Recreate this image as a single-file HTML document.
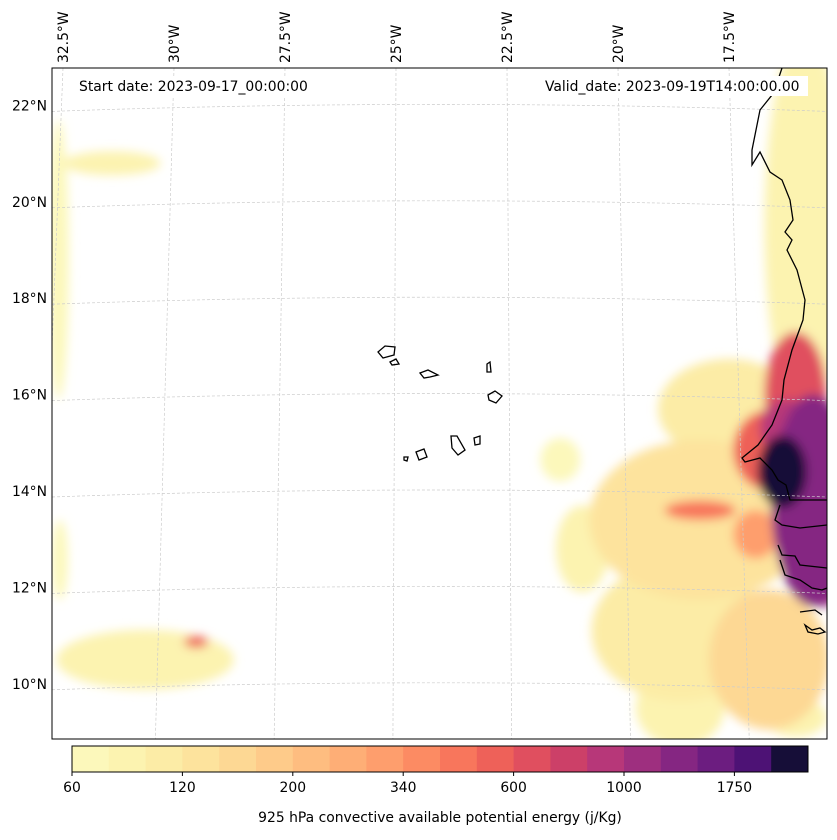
<!DOCTYPE html>
<html><head><meta charset="utf-8"><style>
body{margin:0;background:#fff;font-family:"DejaVu Sans",sans-serif}
svg text{font-family:"DejaVu Sans",sans-serif;font-size:13.9px;fill:#000}
</style></head><body>
<svg id="c" width="837" height="836" xmlns="http://www.w3.org/2000/svg">
<defs>
<clipPath id="mapclip"><rect x="52" y="68" width="775" height="671"/></clipPath>
<filter id="blur" x="-50%" y="-50%" width="200%" height="200%"><feGaussianBlur stdDeviation="5"/></filter>
</defs>
<rect x="0" y="0" width="837" height="836" fill="#fff"/>
<g id="field" clip-path="url(#mapclip)" filter="url(#blur)"></g>
<g id="grid" clip-path="url(#mapclip)"></g>
<g clip-path="url(#mapclip)" fill="none" stroke="#000" stroke-width="1.3">
<path d="M782,68 L778,80 L772,95 L760,110 L752,150 L752,165 L760,152 L770,172 L782,180 L790,200 L793,220 L785,232 L792,240 L787,250 L797,270 L805,300 L803,320 L792,350 L784,380 L782,400 L772,425 L758,445 L742,458 L745,462 L760,458 L772,470 L778,480 L786,485 L790,500 L827,500 M780,505 L775,520 L782,525 L800,528 L827,525 M778,545 L782,555 L795,556 L800,565 L827,568 M780,560 L785,575 L800,580 L812,588 L822,590 L827,588 M800,612 L815,610 L822,615 M805,625 L812,630 L820,628 L825,632 L818,634 L808,632 Z"/>
<path d="M378,352 L385,346 L395,347 L394,355 L383,358 Z"/>
<path d="M390,362 L396,359 L399,364 L392,365 Z"/>
<path d="M420,373 L428,370 L438,375 L430,377 L424,378 Z"/>
<path d="M487,364 L490,362 L491,372 L487,372 Z"/>
<path d="M488,395 L495,391 L502,396 L496,403 L489,400 Z"/>
<path d="M474,438 L480,436 L480,444 L475,445 Z"/>
<path d="M451,436 L457,436 L465,450 L458,455 L452,448 Z"/>
<path d="M416,452 L424,449 L427,457 L419,460 Z"/>
<path d="M404,457 L408,457 L407,461 L404,460 Z"/>
</g>
<rect x="52" y="68" width="775" height="671" fill="none" stroke="#000" stroke-width="1"/>
<rect x="72" y="76" width="242" height="20" fill="#fff"/>
<text x="79" y="91">Start date: 2023-09-17_00:00:00</text>
<rect x="538" y="76" width="270" height="20" fill="#fff"/>
<text x="545" y="91">Valid_date: 2023-09-19T14:00:00.00</text>
<g id="labels"></g>
<g id="cbar"></g>
<text x="440" y="822" text-anchor="middle">925 hPa convective available potential energy (j/Kg)</text>
</svg>
<script>
const levels=[60,80,100,120,150,175,200,250,300,340,400,500,600,700,850,1000,1250,1500,1750,2000,2500];
const colors=["#fcf8bb","#fcf3b0","#fceca6","#fde39d","#fdd894","#fecb8a","#febd80","#feae76","#fe9e6d","#fc8b63","#f8765c","#ee6159","#e04f5f","#cc4068","#b73779","#9e2f7f","#852682","#6c1d80","#4d1275","#160e38"];
const tickVals=[60,120,200,340,600,1000,1750];
const latTicks=[22,20,18,16,14,12,10];
const lonTicks=[-32.5,-30,-27.5,-25,-22.5,-20,-17.5];
// CAPE blobs: lon, lat, radius lon, radius lat, value
const blobLon=[-32.6,-31.4,-30.65,-29.5,-32.57,-21.3,-15.8,-17.5,-18.15,-18.6,-16.6,-18.6,-19.5,-16.0,-18.15,-16.0,-16.6,-15.6,-16.3,-15.7,-16.9,-15.4,-16.2,-20.8];
const blobLat=[18.8,20.8,10.5,10.87,12.57,14.65,19.5,15.7,13.4,11.1,10.5,9.5,13.9,9.3,13.6,16.0,14.85,13.8,14.4,12.6,13.1,12.6,15.3,12.8];
const blobRLon=[0.23,1.1,2.0,0.27,0.18,0.45,0.9,1.6,2.5,2.0,1.35,1.0,0.6,0.7,0.8,0.7,0.8,0.95,0.55,0.45,0.5,0.7,0.6,0.6];
const blobRLat=[2.9,0.25,0.62,0.12,0.83,0.45,4.0,1.04,1.66,1.45,1.45,0.8,0.5,0.4,0.2,1.3,0.83,2.2,0.75,0.62,0.5,1.0,0.6,0.9];
const blobVal=[70,90,90,500,70,70,90,100,130,110,150,90,120,80,450,600,500,1300,2000,1100,300,1000,900,80];

const NS="http://www.w3.org/2000/svg";
function lonX(lon){return 618+(lon+20)*44.4;}
function latY(lat){return 491-(lat-14)*48.2;}
function colorFor(v){for(let i=0;i<colors.length;i++){if(v<levels[i+1])return colors[i];}return colors[colors.length-1];}
function mk(tag,attrs,parent){const e=document.createElementNS(NS,tag);for(const k in attrs)e.setAttribute(k,attrs[k]);parent.appendChild(e);return e;}

const field=document.getElementById('field');
const order=blobVal.map((v,i)=>i).sort((a,b)=>blobVal[a]-blobVal[b]);
order.forEach(i=>{
  const e=mk('ellipse',{cx:lonX(blobLon[i]),cy:latY(blobLat[i]),rx:blobRLon[i]*44.4,ry:blobRLat[i]*48.2,fill:colorFor(blobVal[i])},field);
  
  
});

const grid=document.getElementById('grid');
const labels=document.getElementById('labels');
latTicks.forEach(lat=>{
  const y=latY(lat);
  const p=mk('path',{d:`M52,${y+6} Q440,${y-8} 827,${y+6}`,fill:'none',stroke:'#ccc','stroke-width':0.7,'stroke-dasharray':'3,2'},grid);
  
  
  const t=mk('text',{x:47,y:y+5,'text-anchor':'end'},labels);
  t.textContent=lat+'°N';
  
  
});
lonTicks.forEach(lon=>{
  const x=lonX(lon);
  const xb=x+(x-440)*0.07;
  const l=mk('line',{x1:x,y1:68,x2:xb,y2:739,stroke:'#ccc','stroke-width':0.7,'stroke-dasharray':'3,2'},grid);
  
  
  const t=mk('text',{x:0,y:0,transform:`translate(${x+5},63) rotate(-90)`},labels);
  t.textContent=Math.abs(lon)+'°W';
  
  
});

const cbar=document.getElementById('cbar');
const cx0=72,cw=736,cy=746,ch=26,bw=cw/colors.length;
colors.forEach((c,i)=>{
  const r=mk('rect',{x:cx0+i*bw,y:cy,width:bw+0.5,height:ch,fill:c},cbar);
  
  
});
mk('rect',{x:cx0,y:cy,width:cw,height:ch,fill:'none',stroke:'#000','stroke-width':1},cbar);
tickVals.forEach(v=>{
  const i=levels.indexOf(v);
  const x=cx0+i*bw;
  mk('line',{x1:x,y1:cy+ch,x2:x,y2:cy+ch+4,stroke:'#000'},cbar);
  const t=mk('text',{x:x,y:792,'text-anchor':'middle'},cbar);
  t.textContent=v;
  
  
});
</script>
</body></html>
